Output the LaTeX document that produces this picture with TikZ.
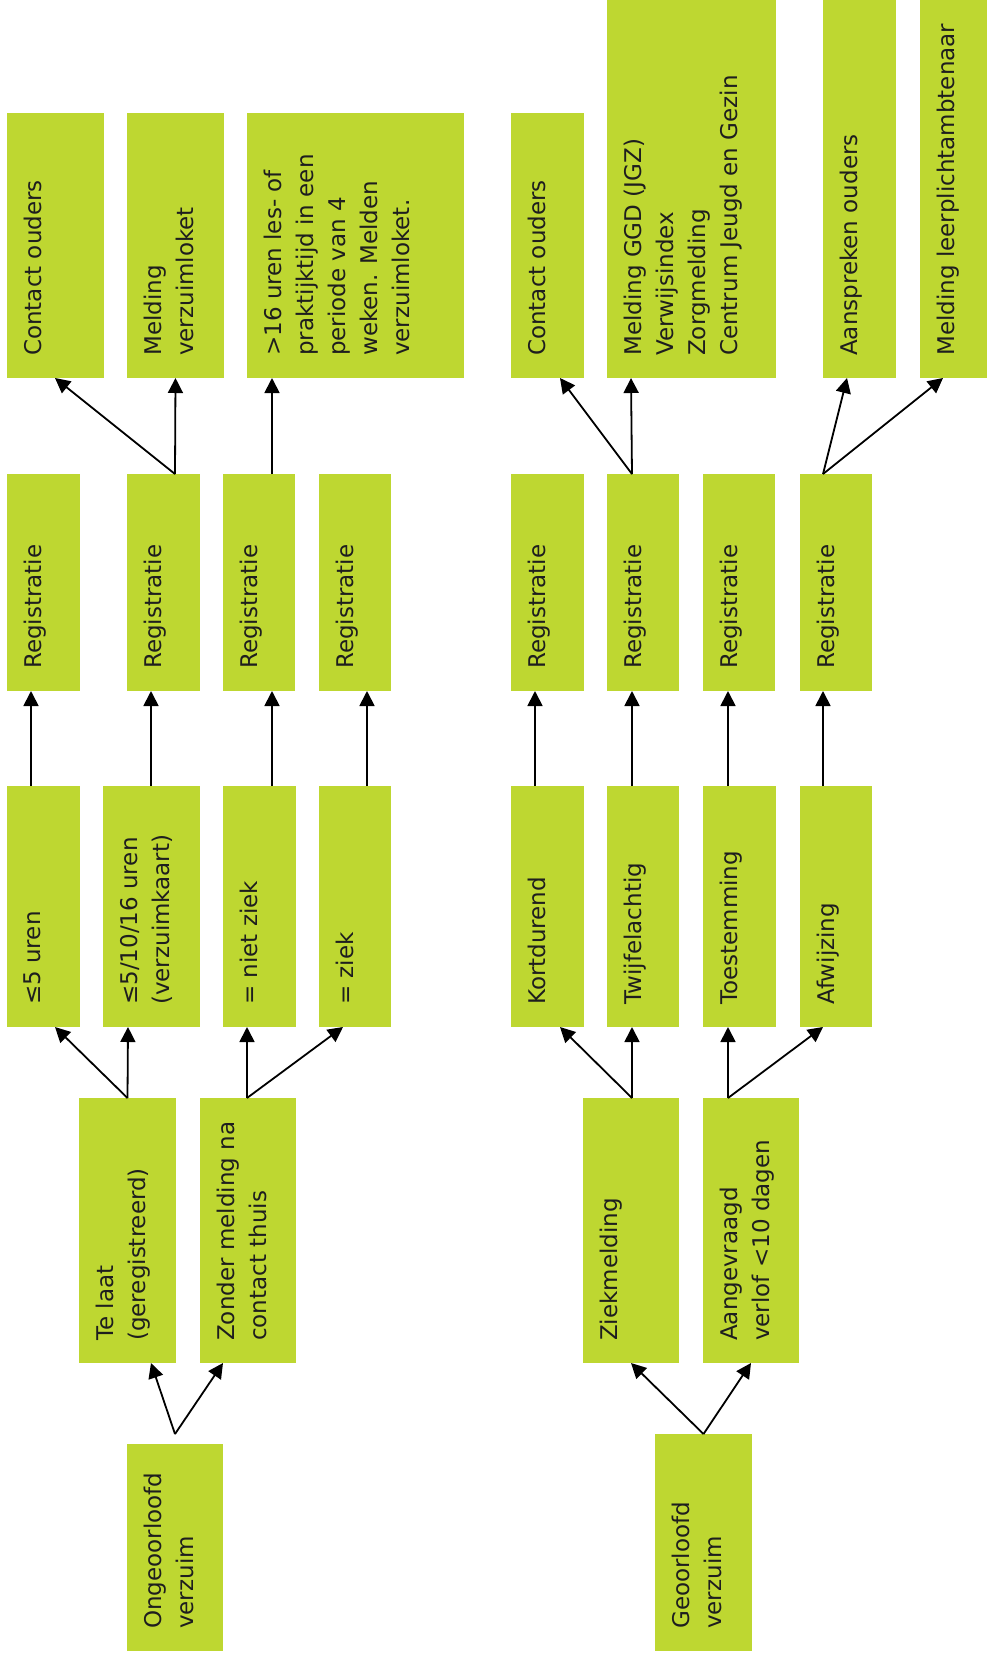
\documentclass[tikz,border=0pt]{standalone}
\usepackage{fontspec}
\setmainfont{DejaVu Sans}
\usetikzlibrary{calc,arrows.meta}
\definecolor{lime}{RGB}{190,215,49}
\definecolor{txt}{RGB}{30,30,30}
\newcommand\greenbox[6]{%
  \node[box, anchor=north west, minimum width={(#4-#2)*1pt}, minimum height={(#5-#3)*1pt}] (#1) at (#2,-#3) {};
  \node[lbl] (#1t) at ($(#1.south west)+(17,22)$) {#6};}
\begin{document}
\begin{tikzpicture}[x=1pt,y=1pt,
  box/.style={fill=lime, draw=none, inner sep=0pt, outer sep=0pt},
  lbl/.style={rotate=90, anchor=north west, inner sep=0pt, align=left, text=txt, font=\fontsize{23}{32}\selectfont},
  arr/.style={line width=1.8pt, -{Triangle[length=15pt,width=15pt]}},
  ln/.style={line width=1.8pt}]
\useasboundingbox (0,0) rectangle (987,-1658);
% left tree
\greenbox{cL}{7}{113}{104}{378}{Contact ouders}
\greenbox{mvL}{127}{113}{224}{378}{Melding\\verzuimloket}
\greenbox{s16}{247}{113}{464}{378}{>16 uren les- of\\praktijktijd in een\\periode van 4\\weken. Melden\\verzuimloket.}
\greenbox{r1}{7}{474}{80}{691}{Registratie}
\greenbox{r2}{127}{474}{200}{691}{Registratie}
\greenbox{r3}{223}{474}{295}{691}{Registratie}
\greenbox{r4}{319}{474}{391}{691}{Registratie}
\greenbox{o1}{7}{786}{80}{1027}{≤5 uren}
\greenbox{o2}{103}{786}{200}{1027}{≤5/10/16 uren\\(verzuimkaart)}
\greenbox{o3}{223}{786}{296}{1027}{= niet ziek}
\greenbox{o4}{319}{786}{391}{1027}{= ziek}
\greenbox{tl}{79}{1098}{176}{1363}{Te laat\\(geregistreerd)}
\greenbox{zm}{200}{1098}{296}{1363}{Zonder melding na\\contact thuis}
\greenbox{ong}{127}{1444}{223}{1651}{Ongeoorloofd\\verzuim}
% right tree
\greenbox{cR}{511}{113}{584}{378}{Contact ouders}
\greenbox{ggd}{607}{0}{776}{378}{Melding GGD (JGZ)\\Verwijsindex\\Zorgmelding\\Centrum Jeugd en Gezin}
\greenbox{asp}{823}{0}{896}{378}{Aanspreken ouders}
\greenbox{lpa}{920}{0}{987}{378}{Melding leerplichtambtenaar}
\greenbox{rr1}{511}{474}{584}{691}{Registratie}
\greenbox{rr2}{607}{474}{679}{691}{Registratie}
\greenbox{rr3}{703}{474}{775}{691}{Registratie}
\greenbox{rr4}{800}{474}{872}{691}{Registratie}
\greenbox{k}{511}{786}{584}{1027}{Kortdurend}
\greenbox{tw}{607}{786}{679}{1027}{Twijfelachtig}
\greenbox{ts}{703}{786}{776}{1027}{Toestemming}
\greenbox{af}{800}{786}{872}{1027}{Afwijzing}
\greenbox{zk}{583}{1098}{679}{1363}{Ziekmelding}
\greenbox{av}{703}{1098}{799}{1363}{Aangevraagd\\verlof <10 dagen}
\greenbox{geo}{655}{1434}{752}{1651}{Geoorloofd\\verzuim}
% left connectors
\coordinate (ongv) at ($(ong.north)+(0,10)$);
\draw[arr] (ongv) -- ($(tl.south west)+(72,0)$);
\draw[arr] (ongv) -- ($(zm.south west)+(23,0)$);
\draw[arr] (tl.north) -- ($(o1.south west)+(48,0)$);
\draw[arr] (tl.north) -- ($(o2.south west)+(25,0)$);
\draw[arr] ($(zm.north west)+(47,0)$) -- ($(o3.south west)+(24,0)$);
\draw[arr] ($(zm.north west)+(47,0)$) -- ($(o4.south west)+(24,0)$);
\draw[arr] ($(o1.north west)+(24,0)$) -- ($(r1.south west)+(24,0)$);
\draw[arr] ($(o2.north west)+(48,0)$) -- ($(r2.south west)+(24,0)$);
\draw[arr] ($(o3.north west)+(49,0)$) -- ($(r3.south west)+(49,0)$);
\draw[arr] ($(o4.north west)+(48,0)$) -- ($(r4.south west)+(48,0)$);
\draw[arr] ($(r2.north west)+(48,0)$) -- ($(cL.south west)+(48,0)$);
\draw[arr] ($(r2.north west)+(48,0)$) -- (mvL.south);
\draw[arr] ($(r3.north west)+(49,0)$) -- ($(s16.south west)+(25,0)$);
% right connectors
\draw[arr] (geo.north) -- (zk.south);
\draw[arr] (geo.north) -- (av.south);
\draw[arr] ($(zk.north west)+(49,0)$) -- ($(k.south west)+(49,0)$);
\draw[arr] ($(zk.north west)+(49,0)$) -- ($(tw.south west)+(25,0)$);
\draw[arr] ($(av.north west)+(25,0)$) -- ($(ts.south west)+(25,0)$);
\draw[arr] ($(av.north west)+(25,0)$) -- ($(af.south west)+(23,0)$);
\draw[arr] ($(k.north west)+(24,0)$) -- ($(rr1.south west)+(24,0)$);
\draw[arr] ($(tw.north west)+(25,0)$) -- ($(rr2.south west)+(25,0)$);
\draw[arr] ($(ts.north west)+(25,0)$) -- ($(rr3.south west)+(25,0)$);
\draw[arr] ($(af.north west)+(23,0)$) -- ($(rr4.south west)+(23,0)$);
\draw[arr] ($(rr2.north west)+(25,0)$) -- ($(cR.south west)+(49,0)$);
\draw[arr] ($(rr2.north west)+(25,0)$) -- ($(ggd.south west)+(24,0)$);
\draw[arr] ($(rr4.north west)+(23,0)$) -- ($(asp.south west)+(24,0)$);
\draw[arr] ($(rr4.north west)+(23,0)$) -- ($(lpa.south west)+(23,0)$);
\end{tikzpicture}
\end{document}
